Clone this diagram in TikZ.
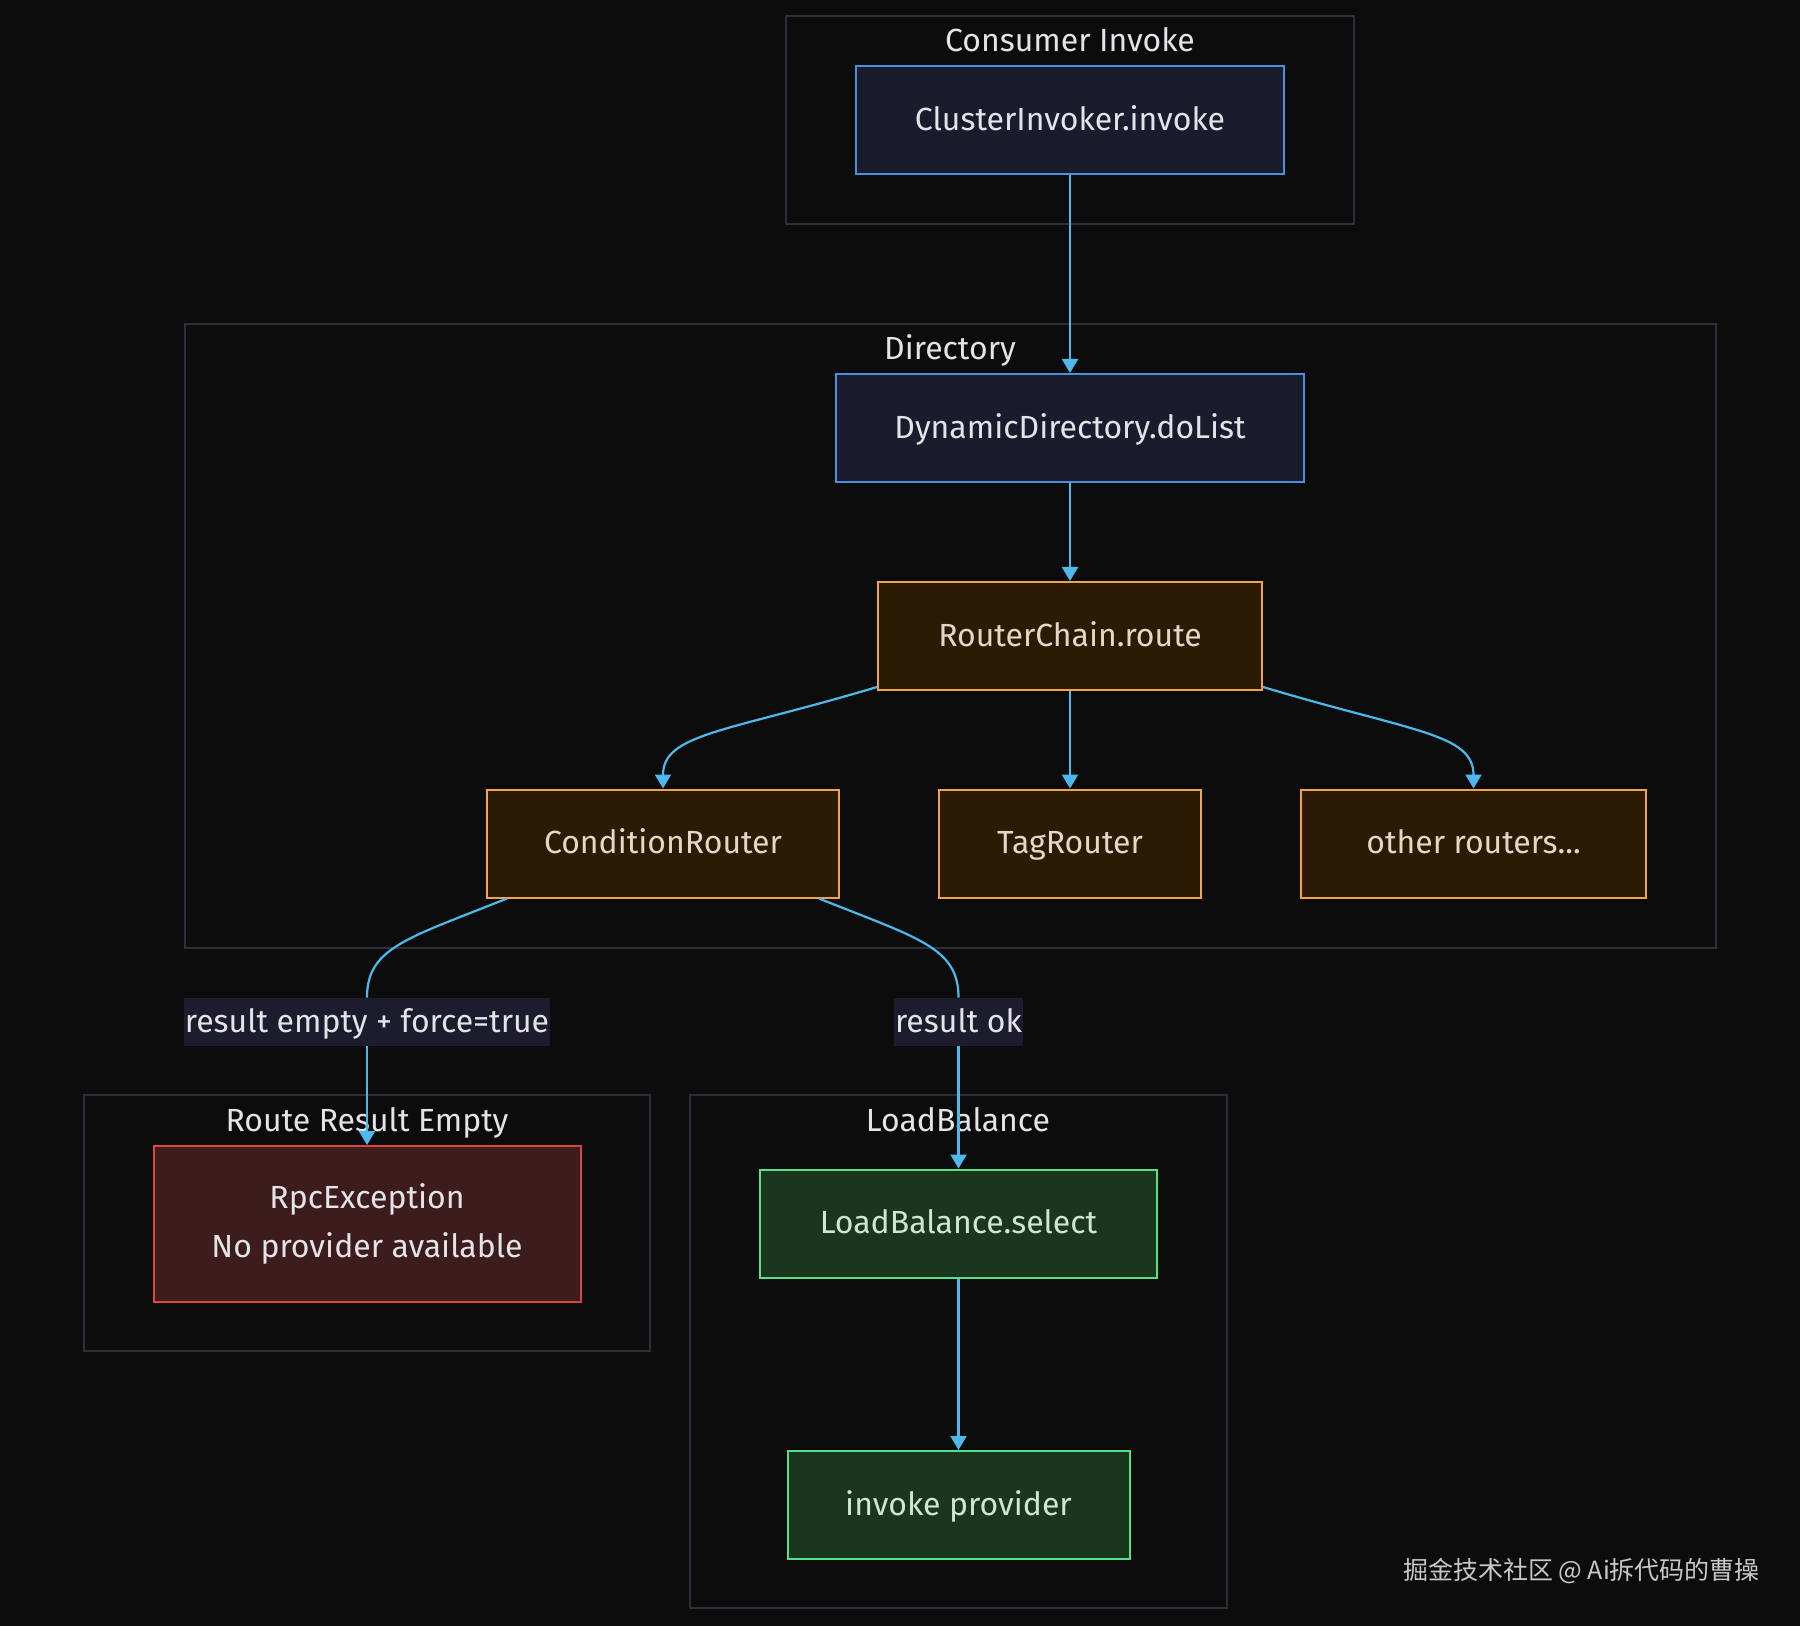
\documentclass[tikz,border=0pt]{standalone}
\usepackage{fontspec}
\setmainfont{Fira Sans}
\newfontfamily\cjkfont{Noto Sans CJK SC}
\usetikzlibrary{arrows.meta}

\definecolor{bgdark}{HTML}{0C0C0D}
\definecolor{groupline}{HTML}{2E2E38}
\definecolor{softwhite}{HTML}{E4E4E8}
\definecolor{edgeblue}{HTML}{4DB8EC}
\definecolor{bluefill}{HTML}{1B1B2E}
\definecolor{blueline}{HTML}{4A8FE0}
\definecolor{orangefill}{HTML}{2B1B05}
\definecolor{orangeline}{HTML}{F0A450}
\definecolor{redfill}{HTML}{3C1C1C}
\definecolor{redline}{HTML}{D94444}
\definecolor{greenfill}{HTML}{1A361C}
\definecolor{greenline}{HTML}{56E08A}
\definecolor{labelfill}{HTML}{1C1C2E}
\definecolor{markgray}{HTML}{C8C8C8}

\begin{document}
\begin{tikzpicture}[x=0.5pt,y=-0.5pt,
  every node/.style={font=\fontsize{16}{24.5}\selectfont,text=softwhite},
  group/.style={draw=groupline,line width=1pt},%cluster frames
  box/.style={draw,line width=1pt,inner sep=0pt,minimum height=54pt,align=center},
  oneline/.style={text height=12.7pt,text depth=2.3pt},%same baseline in every box
  bluebox/.style={box,oneline,fill=bluefill,draw=blueline},
  orangebox/.style={box,oneline,fill=orangefill,draw=orangeline,text=orange!15!softwhite},
  redbox/.style={box,fill=redfill,draw=redline},
  greenbox/.style={box,oneline,fill=greenfill,draw=greenline,text=green!10!softwhite},
  edgelabel/.style={oneline,fill=labelfill,inner xsep=0.5pt,inner ysep=4.5pt},
  flow/.style={draw=edgeblue,line width=1.1pt,-{Triangle[length=7pt,width=8pt]}},
  plain/.style={draw=edgeblue,line width=1.1pt}
  ]
\fill[bgdark] (0,0) rectangle (1800,1626);
\useasboundingbox (0,0) rectangle (1800,1626);

% subgraphs
\draw[group] (786,16) rectangle (1354,224);
\draw[group] (185,324) rectangle (1716,948);
\draw[group] (84,1095) rectangle (650,1351);
\draw[group] (690,1095) rectangle (1227,1608);
\node[oneline] (tConsumer) at (1070,41) {Consumer Invoke};
\node[oneline] (tDirectory) at (950,349) {Directory};
\node[oneline] (tEmpty) at (367,1121) {Route Result Empty};
\node[oneline] (tBalance) at (958,1121) {LoadBalance};

% nodes
\node[bluebox,minimum width=214pt] (ci) at (1070,120) {ClusterInvoker.invoke};
\node[bluebox,minimum width=234pt] (dd) at (1070,428) {DynamicDirectory.doList};
\node[orangebox,minimum width=192pt] (rc) at (1070,636) {RouterChain.route};
\node[orangebox,minimum width=176pt] (cr) at (663,843.5) {ConditionRouter};
\node[orangebox,minimum width=131pt] (tr) at (1070,843.5) {TagRouter};
\node[orangebox,minimum width=172.5pt] (or) at (1473.5,843.5) {other routers...};
\node[redbox,minimum width=213.5pt,minimum height=78pt] (rpc) at (367,1224) {RpcException\\No provider available};
\node[greenbox,minimum width=198.5pt] (lbs) at (958.5,1223.5) {LoadBalance.select};
\node[greenbox,minimum width=171pt] (ip) at (958.5,1505) {invoke provider};

% edge labels
\node[edgelabel] (lblEmpty) at (367,1022) {result empty + force=true};
\node[edgelabel] (lblOk) at (958.5,1022) {result ok};

% edges
\draw[flow] (ci) -- (dd);
\draw[flow] (dd) -- (rc);
\draw[flow] (rc) -- (tr);
\draw[flow] ([yshift=2pt]rc.south west) .. controls +(-150,45) and +(0,-55) .. (cr.north);
\draw[flow] ([yshift=2pt]rc.south east) .. controls +(150,45) and +(0,-55) .. (or.north);
\draw[plain] ([xshift=10.5pt]cr.south west) .. controls +(-100,40) and +(0,-50) .. (lblEmpty.north);
\draw[plain] ([xshift=-10.5pt]cr.south east) .. controls +(100,40) and +(0,-50) .. (lblOk.north);
\draw[flow] (lblEmpty.south) -- (rpc.north);
\draw[flow] (lblOk.south) -- (lbs.north);
\draw[flow] (lbs) -- (ip);

\node[anchor=east,text=markgray,font=\cjkfont\fontsize{12.5}{15}\selectfont] (mark) at (1767,1571) {掘金技术社区 @ Ai拆代码的曹操};
\end{tikzpicture}
\end{document}
